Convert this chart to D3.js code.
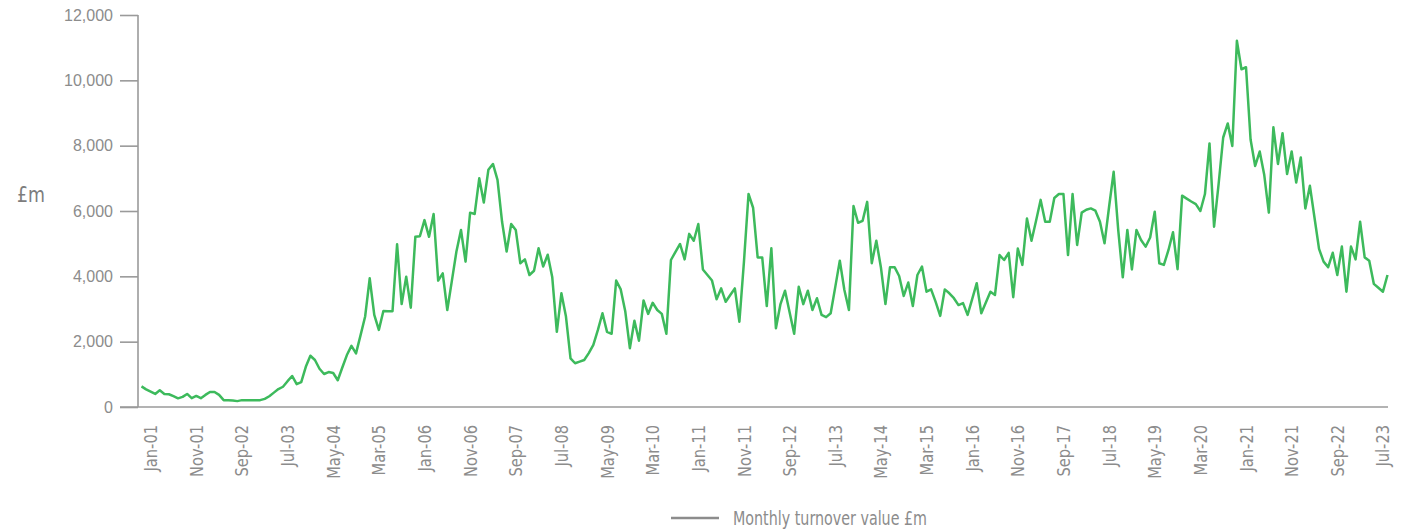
<!DOCTYPE html>
<html>
<head>
<meta charset="utf-8">
<script src="https://cdn.jsdelivr.net/npm/d3@7"></script>
<style>
  body { margin: 0; background: #fff; }
  .narrow { font-family: "Liberation Sans Narrow", "Arial Narrow", "DejaVu Sans Condensed", sans-serif; font-stretch: condensed; }
</style>
</head>
<body>
<script>
// monthly turnover value, £m, Jan-01 .. Oct-23
const turnover = [
  630, 540, 470, 400, 510, 400, 390, 330, 265, 310, 400, 270,
  340, 270, 370, 460, 460, 370, 210, 210, 200, 180, 210, 210,
  210, 210, 210, 250, 330, 440, 550, 620, 790, 950, 700, 760,
  1230, 1570, 1440, 1170, 1010, 1070, 1040, 820, 1210, 1590, 1870, 1640,
  2200, 2770, 3940, 2820, 2360, 2940, 2930, 2930, 4980, 3150, 3990, 3040,
  5210, 5230, 5720, 5210, 5910, 3870, 4090, 2970, 3860, 4760, 5420, 4450,
  5950, 5910, 7000, 6260, 7260, 7440, 6950, 5670, 4760, 5600, 5420, 4400,
  4520, 4040, 4170, 4860, 4300, 4660, 3970, 2300, 3480, 2770, 1490, 1340,
  1390, 1440, 1650, 1900, 2360, 2870, 2300, 2240, 3870, 3600, 2920, 1800,
  2640, 2030, 3260, 2850, 3190, 2970, 2850, 2240, 4500, 4750, 4990, 4520,
  5300, 5090, 5600, 4210, 4040, 3870, 3300, 3630, 3220, 3430, 3630, 2610,
  4450, 6520, 6100, 4580, 4580, 3090, 4860, 2410, 3150, 3560, 2900, 2240,
  3680, 3150, 3560, 2970, 3330, 2820, 2750, 2870, 3670, 4480, 3580, 2970,
  6150, 5640, 5700, 6280, 4400, 5090, 4280, 3150, 4280, 4280, 4010, 3400,
  3810, 3090, 4040, 4300, 3530, 3600, 3220, 2790, 3600, 3480, 3330, 3120,
  3180, 2820, 3300, 3790, 2870, 3200, 3530, 3430, 4650, 4500, 4720, 3360,
  4850, 4350, 5770, 5090, 5700, 6340, 5670, 5670, 6400, 6520, 6520, 4650,
  6520, 4960, 5950, 6040, 6080, 6010, 5670, 5010, 6130, 7200, 5420, 3970,
  5420, 4210, 5420, 5110, 4910, 5190, 5980, 4400, 4350, 4800, 5350, 4220,
  6470, 6380, 6290, 6210, 6000, 6520, 8070, 5520, 6830, 8250, 8680, 7990,
  11210, 10340, 10400, 8190, 7380, 7820, 7100, 5950, 8560, 7440, 8380, 7130,
  7820, 6870, 7640, 6080, 6770, 5800, 4840, 4450, 4280, 4720, 4040, 4910,
  3530, 4910, 4520, 5670, 4580, 4480, 3770, 3650, 3530, 4040
];

const fmtMonth = d3.timeFormat("%b-%y");
const months = d3.timeMonth.range(new Date(2001, 0, 1), new Date(2023, 10, 1)).map(fmtMonth);

const xLabels = ["Jan-01", "Nov-01", "Sep-02", "Jul-03", "May-04", "Mar-05", "Jan-06",
  "Nov-06", "Sep-07", "Jul-08", "May-09", "Mar-10", "Jan-11", "Nov-11", "Sep-12",
  "Jul-13", "May-14", "Mar-15", "Jan-16", "Nov-16", "Sep-17", "Jul-18", "May-19",
  "Mar-20", "Jan-21", "Nov-21", "Sep-22", "Jul-23"];
const yTicks = [0, 2000, 4000, 6000, 8000, 10000, 12000];
const seriesName = "Monthly turnover value £m";

const width = 1405, height = 532;
const grey = "#8c8c8c";

let svg = d3.select("body")
  .append("svg")
  .attr("width", width)
  .attr("height", height);

const x = d3.scalePoint()
  .domain(months)
  .range([141.5, 1387.5]);

const y = d3.scaleLinear()
  .domain([0, 12000])
  .range([407, 15]);

// y axis
const yAxis = svg.append("g")
  .attr("transform", "translate(138,0)")
  .call(d3.axisLeft(y).tickValues(yTicks).tickSize(18).tickPadding(7).tickFormat(d3.format(",")));
yAxis.select(".domain").attr("stroke", "#9a9a9a").attr("stroke-width", 1.6).attr("d", "M0," + y(12000) + "V" + y(0));
yAxis.selectAll(".tick line").attr("stroke", "#9a9a9a").attr("stroke-width", 1.6);
yAxis.selectAll(".tick text")
  .attr("fill", grey)
  .style("font-family", "'Liberation Sans', Arial, sans-serif")
  .style("font-size", "16px");

// x axis line, no ticks
svg.append("line")
  .attr("x1", 120).attr("x2", 1388)
  .attr("y1", y(0)).attr("y2", y(0))
  .attr("stroke", "#9a9a9a")
  .attr("stroke-width", 1.6);

// labels squeezed a bit, the original uses a narrow face
svg.selectAll(".xlab")
  .data(xLabels)
  .enter()
  .append("text")
  .attr("class", "xlab narrow")
  .attr("transform", d => "translate(" + (x(d) + 9) + ",425) rotate(-90) scale(0.88,1)")
  .attr("dy", "0.36em")
  .style("text-anchor", "end")
  .style("font-size", "18.5px")
  .attr("fill", grey)
  .text(d => d);

svg.append("text")
  .attr("class", "narrow")
  .attr("x", 17)
  .attr("y", 202)
  .attr("textLength", 28)
  .attr("lengthAdjust", "spacingAndGlyphs")
  .style("font-size", "21px")
  .attr("fill", "#7d7d7d")
  .text("£m");

const line = d3.line()
  .x((d, i) => x(months[i]))
  .y(d => y(d));

svg.append("path")
  .datum(turnover)
  .attr("fill", "none")
  .attr("stroke", "#3dba5c")
  .attr("stroke-width", 2.5)
  .attr("stroke-linejoin", "round")
  .attr("d", line);

// legend
const legend = svg.append("g").attr("transform", "translate(671,518)");
legend.append("line")
  .attr("x1", 0).attr("x2", 48)
  .attr("stroke", grey)
  .attr("stroke-width", 2.5);
legend.append("text")
  .attr("class", "narrow")
  .attr("x", 62)
  .attr("y", 6.5)
  .attr("textLength", 194)
  .attr("lengthAdjust", "spacingAndGlyphs")
  .style("font-size", "19.5px")
  .attr("fill", grey)
  .text(seriesName);
</script>
</body>
</html>
